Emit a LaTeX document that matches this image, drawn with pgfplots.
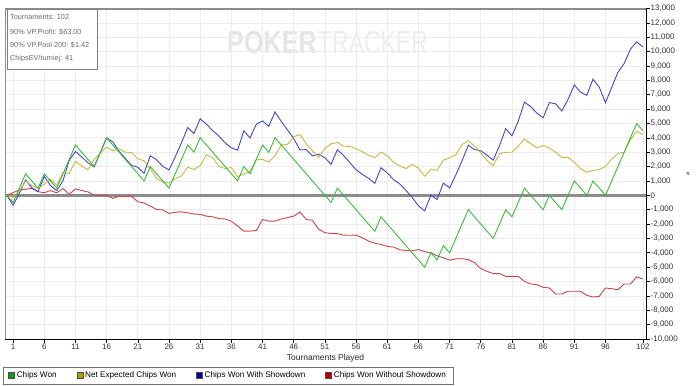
\documentclass[border=0pt]{standalone}
\usepackage{fontspec}
\setmainfont{Liberation Sans}
\usepackage{graphicx}
\usepackage{pgfplots}
\usepackage{pgfplotstable}
\pgfplotsset{compat=1.18}
\definecolor{cGreen}{RGB}{60,185,60}
\definecolor{cYel}{RGB}{195,185,70}
\definecolor{cBlue}{RGB}{70,70,200}
\definecolor{cRed}{RGB}{200,70,70}
\definecolor{lGreen}{RGB}{0,165,0}
\definecolor{lYel}{RGB}{165,160,0}
\definecolor{lBlue}{RGB}{0,0,170}
\definecolor{lRed}{RGB}{175,0,0}
\definecolor{frameGray}{RGB}{140,140,140}
\definecolor{gridGray}{RGB}{236,236,236}
\pgfplotstableread{
t g e b r
0 0 0 0 0
1 -500 -150 -690 190
2 500 300 130 370
3 1500 1000 1080 420
4 1000 680 520 480
5 500 460 250 250
6 1500 780 1320 180
7 1000 1120 670 330
8 500 700 330 170
9 1500 1580 1020 480
10 2500 1520 2440 60
11 3500 2380 3050 450
12 3000 2030 2670 330
13 2500 1780 2260 240
14 2000 2500 1990 10
15 3000 2950 2980 20
16 4000 3350 4000 0
17 3500 3100 3720 -220
18 3000 3240 3060 -60
19 2500 3000 2570 -70
20 2000 2980 2080 -80
21 1500 2540 1950 -450
22 1000 2400 1530 -530
23 2000 1850 2750 -750
24 1500 1180 2480 -980
25 1000 920 2020 -1020
26 500 850 1760 -1260
27 1500 1150 2680 -1180
28 2500 1350 3650 -1150
29 3500 1950 4720 -1220
30 3000 1800 4300 -1300
31 4000 2050 5330 -1330
32 3500 2840 4950 -1450
33 3000 2610 4500 -1500
34 2500 2030 4120 -1620
35 2000 1860 3650 -1650
36 1500 1930 3300 -1800
37 1000 1300 3140 -2140
38 2000 1480 4490 -2490
39 1500 1680 3990 -2490
40 2500 2470 4950 -2450
41 3500 2500 5180 -1680
42 3000 2310 4800 -1800
43 4000 2750 5800 -1800
44 3500 3500 5150 -1650
45 3000 3540 4550 -1550
46 2500 4080 3950 -1450
47 2000 4230 3160 -1160
48 1500 3600 3180 -1680
49 1000 3110 2740 -1740
50 500 2640 2860 -2360
51 0 3250 2600 -2600
52 -500 3590 2160 -2660
53 500 3680 3170 -2670
54 0 3420 2770 -2770
55 -500 3400 2280 -2780
56 -1000 3250 1770 -2770
57 -1500 3040 1460 -2960
58 -2000 2790 1190 -3190
59 -2500 2610 830 -3330
60 -1500 3010 1920 -3420
61 -2000 2750 1560 -3560
62 -2500 2290 1100 -3600
63 -3000 2050 790 -3790
64 -3500 1860 340 -3840
65 -4000 2150 -140 -3860
66 -4500 1890 -730 -3770
67 -5000 1330 -1080 -3920
68 -4000 1820 0 -4000
69 -4500 1740 -290 -4210
70 -3500 2450 850 -4350
71 -4000 2610 520 -4520
72 -3000 2820 1420 -4420
73 -2000 3530 2410 -4410
74 -1000 3800 3480 -4480
75 -1500 3440 3180 -4680
76 -2000 2950 3100 -5100
77 -2500 2410 2790 -5290
78 -3000 2070 2450 -5450
79 -2000 2900 3450 -5450
80 -1000 2990 4640 -5640
81 -1500 3000 4140 -5640
82 -500 3410 5140 -5640
83 500 3930 6490 -5990
84 0 3600 6170 -6170
85 -500 3290 5720 -6220
86 -1000 3460 5400 -6400
87 0 3290 6450 -6450
88 -500 2990 6370 -6870
89 -1000 2640 5870 -6870
90 0 2640 6680 -6680
91 1000 2300 7680 -6680
92 500 1860 7180 -6680
93 0 1600 6960 -6960
94 1000 1720 8080 -7080
95 500 1790 7530 -7030
96 0 2000 6450 -6450
97 1000 2530 7500 -6500
98 2000 2920 8570 -6570
99 3000 3000 9170 -6170
100 4000 3870 10170 -6170
101 5000 4450 10680 -5680
102 4500 4220 10320 -5820
}\chipsdata
\begin{document}
\begin{tikzpicture}
\path[use as bounding box] (0,0) rectangle (700bp,-386bp);
% watermark
\node[anchor=base west, inner sep=0pt, text=black!10, font=\fontsize{32}{32}\selectfont\bfseries] at (227bp,-53bp) {\scalebox{0.79}[1]{POKER}};
\node[anchor=base west, inner sep=0pt, text=black!7, font=\fontsize{32}{32}\selectfont] at (318bp,-53bp) {\scalebox{0.72}[1]{TRACKER}};
\begin{axis}[
  at={(5bp,-8.5bp)}, anchor=north west,
  scale only axis, width=641bp, height=330.5bp,
  xmin=-0.3, xmax=102.5, ymin=-10000, ymax=13000,
  axis x line*=bottom, axis y line*=right,
  axis line style={black, line width=0.6bp, -},
  xtick={1,6,11,16,21,26,31,36,41,46,51,56,61,66,71,76,81,86,91,96,102},
  xticklabels={1,6,11,16,21,26,31,36,41,46,51,56,61,66,71,76,81,86,91,96,102},
  ytick={-10000,-9000,-8000,-7000,-6000,-5000,-4000,-3000,-2000,-1000,0,1000,2000,3000,4000,5000,6000,7000,8000,9000,10000,11000,12000,13000},
  yticklabels={{-10,000},{-9,000},{-8,000},{-7,000},{-6,000},{-5,000},{-4,000},{-3,000},{-2,000},{-1,000},{0},{1,000},{2,000},{3,000},{4,000},{5,000},{6,000},{7,000},{8,000},{9,000},{10,000},{11,000},{12,000},{13,000}},
  grid=major, major grid style={gridGray, line width=0.7bp},
  tick align=outside, major tick length=3.5bp,
  tick style={black, line width=0.6bp},
  ticklabel style={font=\fontsize{8}{9}\selectfont, text=black!80},
  yticklabel style={inner sep=1bp},
  xticklabel style={inner sep=1bp},
  xlabel={Tournaments Played},
  xlabel style={font=\fontsize{8.5}{9}\selectfont, text=black!85, inner sep=1bp, yshift=-2.5bp},
  legend columns=4,
  legend cell align=left,
  legend image code/.code={\draw[#1] (0bp,-2.6bp) rectangle (6bp,3.4bp);},
  legend style={at={(axis description cs:0,0)}, anchor=north west, xshift=-2bp, yshift=-27.5bp,
    draw=black!55, line width=0.7bp, font=\fontsize{8.2}{9}\selectfont,
    inner xsep=5bp, inner ysep=3bp,
    /tikz/every even column/.append style={column sep=18bp}},
]
\draw[frameGray, line width=2.4bp] (axis cs:-0.3,0) -- (axis cs:102.5,0);
\addlegendimage{draw=black!70, fill=lGreen, line width=0.5bp}
\addlegendentry{Chips Won}
\addlegendimage{draw=black!70, fill=lYel, line width=0.5bp}
\addlegendentry{Net Expected Chips Won}
\addlegendimage{draw=black!70, fill=lBlue, line width=0.5bp}
\addlegendentry{Chips Won With Showdown}
\addlegendimage{draw=black!70, fill=lRed, line width=0.5bp}
\addlegendentry{Chips Won Without Showdown}
\addplot[cRed, line width=0.9bp, forget plot] table[x=t, y=r] {\chipsdata};
\addplot[cBlue, line width=0.9bp, forget plot] table[x=t, y=b] {\chipsdata};
\addplot[cYel, line width=0.9bp, forget plot] table[x=t, y=e] {\chipsdata};
\addplot[cGreen, line width=0.9bp, forget plot] table[x=t, y=g] {\chipsdata};
\draw[frameGray, line width=2.4bp] (rel axis cs:0,1) -- (rel axis cs:1,1);
\draw[frameGray, line width=2.4bp] (rel axis cs:0,0) -- (rel axis cs:0,1);
\end{axis}
% info box
\draw[black!50, fill=white, line width=0.8bp] (7bp,-9.3bp) rectangle (97bp,-69.3bp);
\begin{scope}[every node/.style={anchor=base west, inner sep=0pt, text=black!58, font=\fontsize{7.3}{8}\selectfont}]
\node at (10bp,-19.3bp) {Tournaments: 102};
\node at (10bp,-34.0bp) {90\% VP.Profit: \$63.00};
\node at (10bp,-47.0bp) {90\% VP.Pool 200: \$1.42};
\node at (10bp,-60.0bp) {ChipsEV/turniej: 41};
\end{scope}
\node[rotate=90, inner sep=0pt, text=black!80, font=\fontsize{6}{6}\selectfont] at (688bp,-174bp) {\#};
\end{tikzpicture}
\end{document}
